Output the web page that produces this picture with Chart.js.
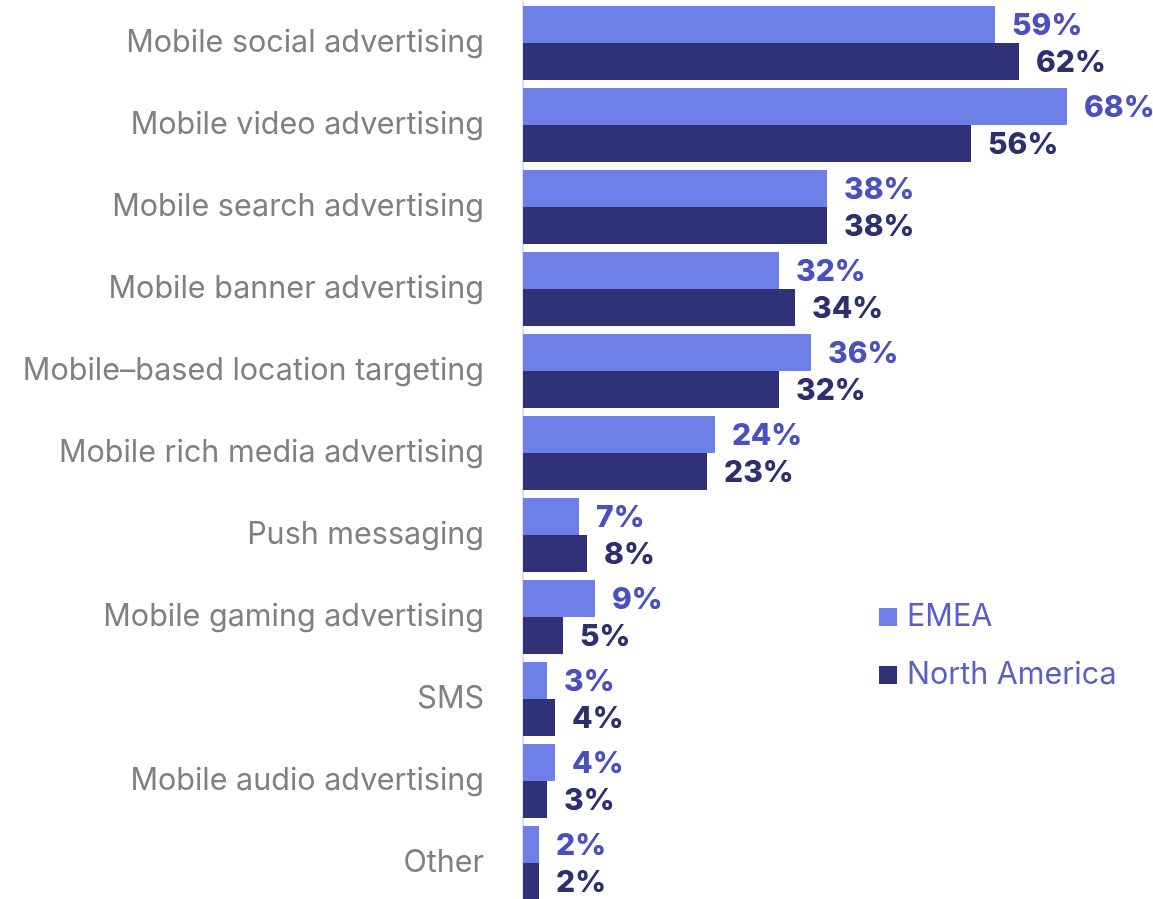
<!DOCTYPE html>
<html>
<head>
<meta charset="utf-8">
<script src="https://cdn.jsdelivr.net/npm/chart.js@4/dist/chart.umd.min.js"></script>
<style>
  html, body { margin: 0; padding: 0; background: #fff; overflow: hidden; }
  #chart { display: block; }
</style>
</head>
<body>
<canvas id="chart" width="1153" height="904"></canvas>
<script>
const categories = [
    'Mobile social advertising',
    'Mobile video advertising',
    'Mobile search advertising',
    'Mobile banner advertising',
    'Mobile\u2013based location targeting',
    'Mobile rich media advertising',
    'Push messaging',
    'Mobile gaming advertising',
    'SMS',
    'Mobile audio advertising',
    'Other'
];
const emeaValues = [59, 68, 38, 32, 36, 24, 7, 9, 3, 4, 2];
const northAmericaValues = [62, 56, 38, 34, 32, 23, 8, 5, 4, 3, 2];

const FONT = 'Inter, "Noto Sans", sans-serif';
const EMEA_BAR = '#6e80e8';
const NA_BAR = '#2f3277';
const EMEA_TEXT = '#4b50c0';
const NA_TEXT = '#2d2f6f';

// value labels at the end of each bar
const barLabels = {
    id: 'barLabels',
    afterDatasetsDraw(chart) {
        const ctx = chart.ctx;
        ctx.save();
        ctx.font = '800 30px ' + FONT;
        ctx.textAlign = 'left';
        ctx.textBaseline = 'middle';
        chart.data.datasets.forEach((ds, i) => {
            const meta = chart.getDatasetMeta(i);
            ctx.fillStyle = ds.labelColor;
            meta.data.forEach((bar, j) => {
                ctx.fillText(ds.data[j] + '%', bar.x + 17, bar.y + 1);
            });
        });
        ctx.restore();
    }
};

// small legend on the right
const sideLegend = {
    id: 'sideLegend',
    afterDraw(chart) {
        const ctx = chart.ctx;
        ctx.save();
        ctx.font = '30.5px ' + FONT;
        ctx.textBaseline = 'middle';
        ctx.textAlign = 'left';
        chart.data.datasets.forEach((ds, i) => {
            const y = 617 + i * 58;
            ctx.fillStyle = ds.backgroundColor;
            ctx.fillRect(879, y - 9, 18, 18);
            ctx.fillStyle = '#5a5fc6';
            ctx.fillText(ds.label, 907, y);
        });
        ctx.restore();
    }
};

new Chart(document.getElementById('chart'), {
    type: 'bar',
    data: {
        labels: categories,
        datasets: [
            { label: 'EMEA', data: emeaValues, backgroundColor: EMEA_BAR, labelColor: EMEA_TEXT },
            { label: 'North America', data: northAmericaValues, backgroundColor: NA_BAR, labelColor: NA_TEXT }
        ]
    },
    options: {
        indexAxis: 'y',
        responsive: false,
        animation: false,
        devicePixelRatio: 1,
        layout: { padding: { top: 2, right: 6, left: 0, bottom: 0 } },
        datasets: {
            bar: { categoryPercentage: 74 / 82, barPercentage: 1 }
        },
        scales: {
            x: {
                display: false,
                min: 0,
                max: 78
            },
            y: {
                grid: { display: false, drawTicks: false },
                border: { display: true, color: '#dcdcf0', width: 2 },
                ticks: {
                    padding: 39,
                    color: '#808080',
                    font: { family: FONT, size: 30.5 }
                },
                afterFit(scale) {
                    scale.width = 523;
                    scale.paddingTop = 0;
                    scale.paddingBottom = 0;
                }
            }
        },
        plugins: {
            legend: { display: false },
            tooltip: { enabled: false }
        }
    },
    plugins: [barLabels, sideLegend]
});
</script>
</body>
</html>
